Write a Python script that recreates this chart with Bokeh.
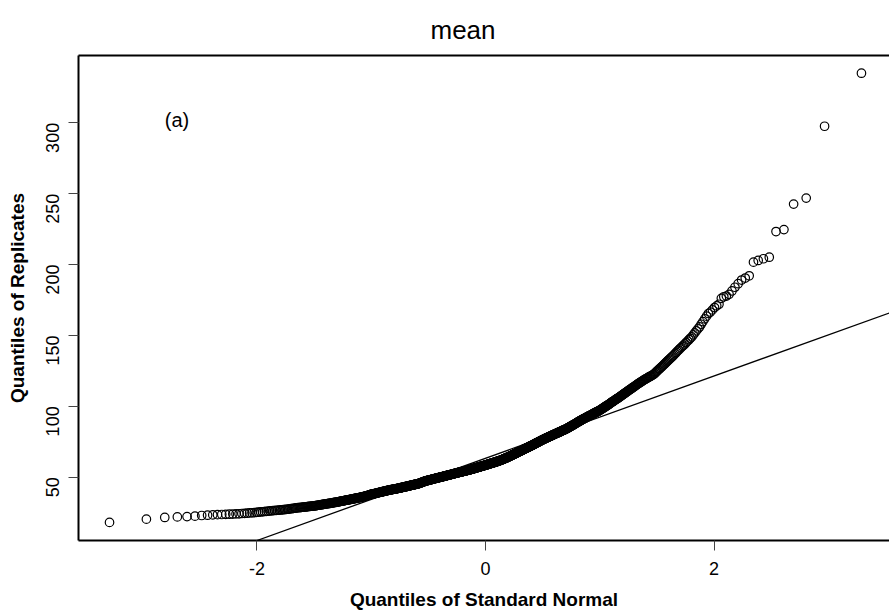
import math
from statistics import NormalDist
import numpy as np
from bokeh.plotting import figure
from bokeh.models import Range1d, FixedTicker, LinearAxis, Slope, Label
from bokeh.embed import file_html
from bokeh.resources import INLINE

title_text = "mean"
x_label = "Quantiles of Standard Normal"
y_label = "Quantiles of Replicates"
panel_tag = "(a)"
x_ticks = [-2, 0, 2]
x_tick_labels = ["-2", "0", "2"]
y_ticks = [50, 100, 150, 200, 250, 300]

# bootstrap replicates of the mean (sorted)
replicates = [
    18.1, 20.4, 21.6, 22.0, 22.2, 22.5, 23.0, 23.2, 23.4, 23.6,
    23.7, 23.8, 23.9, 24.0, 24.1, 24.2, 24.4, 24.5, 24.6, 24.8,
    24.9, 25.0, 25.2, 25.3, 25.5, 25.6, 25.8, 25.9, 26.0, 26.2,
    26.3, 26.4, 26.5, 26.6, 26.7, 26.8, 26.9, 27.0, 27.1, 27.2,
    27.3, 27.4, 27.5, 27.7, 27.8, 27.9, 28.0, 28.1, 28.3, 28.4,
    28.5, 28.6, 28.6, 28.7, 28.8, 28.9, 28.9, 29.0, 29.1, 29.2,
    29.3, 29.4, 29.4, 29.5, 29.6, 29.7, 29.7, 29.8, 29.9, 30.0,
    30.1, 30.2, 30.3, 30.4, 30.5, 30.6, 30.7, 30.8, 30.9, 31.0,
    31.1, 31.2, 31.2, 31.3, 31.4, 31.5, 31.5, 31.6, 31.7, 31.8,
    31.9, 32.0, 32.1, 32.2, 32.2, 32.3, 32.4, 32.5, 32.6, 32.7,
    32.8, 32.9, 33.0, 33.1, 33.2, 33.2, 33.3, 33.4, 33.5, 33.6,
    33.7, 33.8, 33.8, 33.9, 34.0, 34.1, 34.2, 34.2, 34.3, 34.4,
    34.5, 34.6, 34.6, 34.7, 34.8, 34.9, 35.0, 35.0, 35.1, 35.2,
    35.3, 35.4, 35.4, 35.5, 35.6, 35.7, 35.8, 35.8, 35.9, 36.0,
    36.1, 36.2, 36.3, 36.4, 36.4, 36.5, 36.6, 36.7, 36.8, 36.9,
    37.0, 37.1, 37.2, 37.3, 37.4, 37.5, 37.6, 37.7, 37.9, 38.0,
    38.1, 38.1, 38.2, 38.3, 38.3, 38.4, 38.5, 38.5, 38.6, 38.7,
    38.8, 38.9, 38.9, 39.0, 39.1, 39.2, 39.2, 39.3, 39.4, 39.5,
    39.6, 39.6, 39.7, 39.8, 39.8, 39.9, 40.0, 40.0, 40.1, 40.2,
    40.3, 40.3, 40.4, 40.5, 40.5, 40.6, 40.7, 40.7, 40.8, 40.9,
    41.0, 41.0, 41.1, 41.1, 41.2, 41.2, 41.3, 41.3, 41.4, 41.4,
    41.5, 41.5, 41.6, 41.6, 41.7, 41.7, 41.8, 41.8, 41.9, 42.0,
    42.0, 42.1, 42.1, 42.2, 42.3, 42.3, 42.4, 42.4, 42.5, 42.6,
    42.6, 42.7, 42.7, 42.8, 42.9, 42.9, 43.0, 43.0, 43.1, 43.2,
    43.2, 43.3, 43.3, 43.4, 43.5, 43.5, 43.6, 43.6, 43.7, 43.8,
    43.8, 43.9, 43.9, 44.0, 44.1, 44.1, 44.2, 44.2, 44.3, 44.4,
    44.4, 44.5, 44.5, 44.6, 44.6, 44.7, 44.7, 44.8, 44.9, 44.9,
    45.0, 45.0, 45.1, 45.1, 45.2, 45.2, 45.3, 45.4, 45.4, 45.5,
    45.6, 45.7, 45.8, 45.9, 45.9, 46.0, 46.1, 46.2, 46.3, 46.4,
    46.5, 46.6, 46.7, 46.7, 46.8, 46.9, 47.0, 47.1, 47.2, 47.3,
    47.4, 47.4, 47.5, 47.5, 47.6, 47.6, 47.7, 47.7, 47.8, 47.9,
    47.9, 48.0, 48.0, 48.1, 48.2, 48.2, 48.3, 48.3, 48.4, 48.5,
    48.5, 48.6, 48.7, 48.7, 48.8, 48.8, 48.9, 48.9, 49.0, 49.1,
    49.1, 49.2, 49.2, 49.3, 49.3, 49.4, 49.4, 49.5, 49.5, 49.6,
    49.7, 49.7, 49.8, 49.8, 49.9, 49.9, 50.0, 50.0, 50.1, 50.2,
    50.2, 50.3, 50.3, 50.4, 50.4, 50.5, 50.5, 50.6, 50.6, 50.7,
    50.8, 50.8, 50.9, 50.9, 51.0, 51.0, 51.1, 51.1, 51.2, 51.3,
    51.3, 51.4, 51.4, 51.5, 51.5, 51.6, 51.6, 51.7, 51.7, 51.8,
    51.9, 51.9, 52.0, 52.0, 52.1, 52.1, 52.2, 52.2, 52.3, 52.4,
    52.4, 52.5, 52.5, 52.6, 52.6, 52.7, 52.7, 52.8, 52.8, 52.9,
    53.0, 53.0, 53.1, 53.1, 53.2, 53.2, 53.3, 53.3, 53.4, 53.4,
    53.5, 53.5, 53.6, 53.6, 53.7, 53.7, 53.8, 53.8, 53.9, 53.9,
    54.0, 54.0, 54.1, 54.1, 54.2, 54.2, 54.3, 54.3, 54.4, 54.4,
    54.5, 54.5, 54.6, 54.6, 54.7, 54.7, 54.8, 54.8, 54.9, 54.9,
    55.0, 55.0, 55.1, 55.1, 55.2, 55.2, 55.3, 55.4, 55.4, 55.5,
    55.6, 55.6, 55.7, 55.7, 55.8, 55.8, 55.9, 56.0, 56.0, 56.1,
    56.2, 56.2, 56.3, 56.3, 56.4, 56.4, 56.5, 56.6, 56.6, 56.7,
    56.8, 56.8, 56.9, 56.9, 57.0, 57.0, 57.1, 57.2, 57.2, 57.3,
    57.4, 57.4, 57.5, 57.5, 57.6, 57.6, 57.7, 57.8, 57.8, 57.9,
    58.0, 58.0, 58.1, 58.1, 58.2, 58.2, 58.3, 58.4, 58.4, 58.5,
    58.6, 58.6, 58.7, 58.7, 58.8, 58.8, 58.9, 59.0, 59.0, 59.1,
    59.2, 59.2, 59.3, 59.4, 59.4, 59.5, 59.5, 59.6, 59.7, 59.8,
    59.8, 59.9, 59.9, 60.0, 60.0, 60.1, 60.2, 60.2, 60.3, 60.4,
    60.4, 60.5, 60.5, 60.6, 60.6, 60.7, 60.8, 60.8, 60.9, 61.0,
    61.1, 61.1, 61.2, 61.3, 61.3, 61.4, 61.5, 61.6, 61.6, 61.7,
    61.8, 61.9, 61.9, 62.0, 62.1, 62.2, 62.2, 62.3, 62.4, 62.5,
    62.6, 62.7, 62.8, 62.8, 62.9, 63.0, 63.1, 63.2, 63.3, 63.4,
    63.5, 63.6, 63.7, 63.7, 63.8, 63.9, 64.0, 64.1, 64.2, 64.3,
    64.4, 64.5, 64.6, 64.7, 64.8, 64.9, 65.0, 65.1, 65.2, 65.3,
    65.4, 65.5, 65.6, 65.7, 65.8, 65.9, 66.0, 66.1, 66.2, 66.3,
    66.4, 66.5, 66.6, 66.7, 66.8, 66.9, 67.0, 67.1, 67.2, 67.4,
    67.5, 67.6, 67.7, 67.8, 67.9, 68.0, 68.1, 68.2, 68.3, 68.4,
    68.5, 68.6, 68.7, 68.8, 68.9, 69.0, 69.1, 69.2, 69.3, 69.5,
    69.6, 69.7, 69.8, 69.9, 70.0, 70.1, 70.2, 70.3, 70.4, 70.5,
    70.6, 70.7, 70.8, 70.9, 71.0, 71.1, 71.2, 71.3, 71.4, 71.6,
    71.7, 71.8, 71.9, 72.0, 72.1, 72.2, 72.3, 72.4, 72.5, 72.6,
    72.7, 72.8, 73.0, 73.1, 73.2, 73.3, 73.4, 73.5, 73.7, 73.8,
    73.9, 74.0, 74.2, 74.3, 74.4, 74.5, 74.6, 74.7, 74.9, 75.0,
    75.1, 75.2, 75.3, 75.5, 75.6, 75.7, 75.8, 75.9, 76.0, 76.2,
    76.3, 76.4, 76.5, 76.6, 76.7, 76.8, 76.9, 77.0, 77.2, 77.3,
    77.4, 77.5, 77.6, 77.7, 77.8, 77.9, 78.0, 78.1, 78.3, 78.4,
    78.5, 78.6, 78.7, 78.8, 78.9, 79.0, 79.1, 79.2, 79.4, 79.5,
    79.6, 79.7, 79.8, 79.9, 80.0, 80.1, 80.2, 80.3, 80.5, 80.6,
    80.7, 80.8, 80.9, 81.0, 81.1, 81.2, 81.3, 81.4, 81.6, 81.7,
    81.8, 81.9, 82.0, 82.1, 82.2, 82.4, 82.5, 82.6, 82.7, 82.9,
    83.0, 83.1, 83.2, 83.3, 83.4, 83.5, 83.6, 83.7, 83.9, 84.0,
    84.1, 84.3, 84.4, 84.6, 84.7, 84.9, 85.0, 85.2, 85.3, 85.5,
    85.6, 85.8, 85.9, 86.1, 86.2, 86.4, 86.5, 86.7, 86.8, 87.0,
    87.2, 87.3, 87.5, 87.7, 87.8, 88.0, 88.2, 88.3, 88.5, 88.7,
    88.8, 89.0, 89.2, 89.3, 89.5, 89.7, 89.8, 90.0, 90.2, 90.3,
    90.5, 90.6, 90.8, 91.0, 91.1, 91.3, 91.4, 91.6, 91.7, 91.9,
    92.1, 92.2, 92.4, 92.5, 92.7, 92.9, 93.0, 93.2, 93.3, 93.5,
    93.7, 93.8, 94.0, 94.2, 94.3, 94.5, 94.7, 94.8, 95.0, 95.2,
    95.3, 95.5, 95.7, 95.8, 96.0, 96.2, 96.3, 96.5, 96.6, 96.8,
    97.0, 97.2, 97.5, 97.7, 97.9, 98.1, 98.3, 98.6, 98.8, 99.0,
    99.2, 99.5, 99.7, 99.9, 100.2, 100.4, 100.6, 100.9, 101.1, 101.3,
    101.6, 101.8, 102.1, 102.4, 102.6, 102.9, 103.1, 103.4, 103.6, 103.9,
    104.2, 104.4, 104.7, 104.9, 105.2, 105.5, 105.7, 106.0, 106.2, 106.5,
    106.8, 107.1, 107.4, 107.7, 108.0, 108.3, 108.6, 108.9, 109.2, 109.5,
    109.8, 110.1, 110.4, 110.8, 111.1, 111.4, 111.7, 112.0, 112.3, 112.6,
    113.0, 113.3, 113.6, 114.0, 114.3, 114.6, 115.0, 115.3, 115.7, 116.0,
    116.3, 116.7, 117.0, 117.3, 117.7, 118.0, 118.3, 118.7, 119.0, 119.3,
    119.6, 119.9, 120.3, 120.6, 120.9, 121.2, 121.5, 121.8, 122.2, 122.5,
    123.1, 123.7, 124.3, 124.9, 125.5, 126.1, 126.7, 127.3, 127.9, 128.5,
    129.2, 129.9, 130.6, 131.3, 132.0, 132.7, 133.4, 134.1, 134.8, 135.5,
    136.3, 137.2, 138.0, 138.9, 139.7, 140.6, 141.4, 142.3, 143.1, 144.0,
    145.0, 146.0, 147.0, 148.0, 149.0, 150.4, 151.8, 153.2, 154.6, 156.0,
    157.9, 159.8, 161.7, 163.6, 165.5, 166.5, 168.0, 169.7, 170.9, 172.0,
    176.2, 177.3, 177.8, 179.0, 181.4, 184.0, 186.5, 189.1, 190.5, 192.1,
    201.7, 202.9, 204.1, 205.2, 223.3, 224.7, 242.7, 246.9, 297.6, 335.0,
]

vals = sorted(replicates)
n = len(vals)
a = 0.375 if n <= 10 else 0.5
nd = NormalDist()
theo = [nd.inv_cdf((i + 1 - a) / (n + 1 - 2 * a)) for i in range(n)]

# qqline through the quartiles
q1, q3 = np.quantile(vals, [0.25, 0.75])
x1, x3 = nd.inv_cdf(0.25), nd.inv_cdf(0.75)
slope = (q3 - q1) / (x3 - x1)
intercept = q1 - slope * x1

FONT = "Liberation Sans"

p = figure(width=889, height=615, output_backend="svg", toolbar_location=None,
           x_range=Range1d(-3.562, 3.536), y_range=Range1d(5.35, 347.5),
           x_axis_type=None, y_axis_type=None,
           min_border_left=78, min_border_right=0, min_border_top=55, min_border_bottom=75)
p.outline_line_color = None
p.background_fill_color = "white"
p.border_fill_color = "white"

p.title.text = title_text
p.title.align = "left"
p.title.offset = 352
p.title.text_font = FONT
p.title.text_font_size = "26px"
p.title.text_font_style = "normal"
p.title.text_color = "black"
p.title.standoff = 22


def style_axis(ax):
    ax.axis_line_color = "black"
    ax.axis_line_width = 2
    ax.major_tick_out = 10
    ax.major_tick_in = 0
    ax.minor_tick_out = 0
    ax.minor_tick_in = 0
    ax.major_tick_line_color = "#444444"
    ax.major_tick_line_width = 1
    ax.major_label_text_font = FONT
    ax.major_label_text_font_size = "18px"
    ax.major_label_text_color = "black"
    ax.axis_label_text_font = FONT
    ax.axis_label_text_font_size = "19px"
    ax.axis_label_text_font_style = "bold"
    ax.axis_label_text_color = "black"


yaxis = LinearAxis(ticker=FixedTicker(ticks=y_ticks), axis_label=y_label)
style_axis(yaxis)
yaxis.major_label_orientation = math.pi / 2
yaxis.major_label_standoff = 16
yaxis.axis_label_standoff = 9
p.add_layout(yaxis, "left")

xaxis = LinearAxis(ticker=FixedTicker(ticks=x_ticks), axis_label=x_label)
style_axis(xaxis)
xaxis.major_label_overrides = {t: s for t, s in zip(x_ticks, x_tick_labels)}
xaxis.major_label_standoff = 11
xaxis.axis_label_standoff = 11
p.add_layout(xaxis, "below")

topaxis = LinearAxis(ticker=FixedTicker(ticks=[]))
topaxis.axis_line_color = "black"
topaxis.axis_line_width = 2
topaxis.major_tick_out = 0
topaxis.minor_tick_out = 0
topaxis.major_label_text_font_size = "0px"
p.add_layout(topaxis, "above")

p.scatter(theo, vals, marker="circle", size=8.5, fill_color=None,
          line_color="black", line_width=1.2)

p.add_layout(Slope(gradient=slope, y_intercept=intercept,
                   line_color="black", line_width=1.3))

p.add_layout(Label(x=-2.70, y=302.3, text=panel_tag, text_align="center",
                   text_baseline="middle", text_font=FONT, text_font_size="20px",
                   text_color="black"))

open("out.html", "w").write(file_html(p, INLINE))
